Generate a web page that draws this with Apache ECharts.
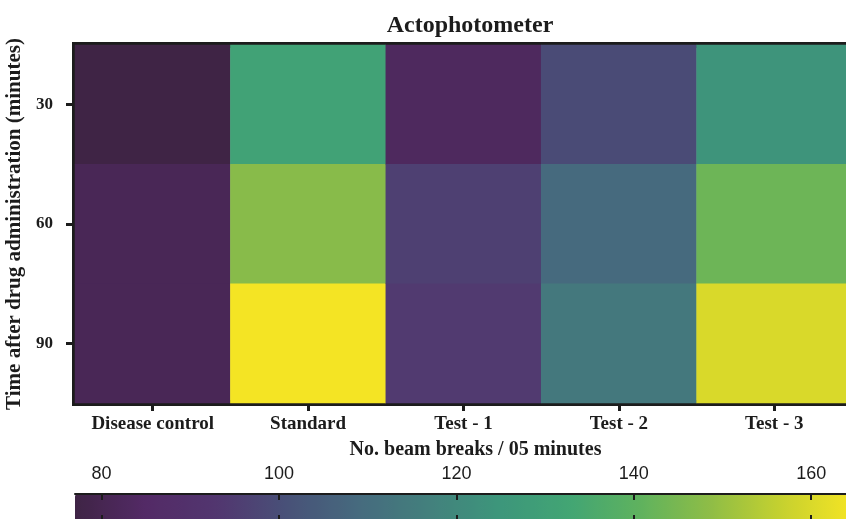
<!DOCTYPE html>
<html><head><meta charset="utf-8">
<script src="https://cdn.jsdelivr.net/npm/echarts@6/dist/echarts.min.js"></script>
<style>html,body{margin:0;padding:0;background:#fff;overflow:hidden}#c{width:846px;height:519px}</style>
</head><body><div id="c"></div>
<script>
const groups = ['Disease control', 'Standard', 'Test - 1', 'Test - 2', 'Test - 3'];
const times = ['30', '60', '90'];
// values per group, in order of times (30, 60, 90)
const diseaseControl = [77, 81, 81];
const standard = [131, 147.5, 164.6];
const test1 = [83, 96, 94];
const test2 = [99, 109, 114];
const test3 = [124, 143, 160];
const colorTicks = [80, 100, 120, 140, 160];
const scaleMin = 77, scaleMax = 164.6;
const palette = ['#3f2445', '#532a66', '#52366f', '#485178', '#466a7e', '#43807d',
                 '#3d967b', '#42a574', '#5fb25e', '#8fbd46', '#c6d12f', '#f4e424'];

const series = [diseaseControl, standard, test1, test2, test3];
const data = [];
series.forEach((vals, xi) => vals.forEach((v, yi) => data.push([xi, yi, v])));

const serif = '"Liberation Serif", "Times New Roman", serif';
const sans = '"Liberation Sans", Arial, sans-serif';
const dark = '#1c1c1c';

const chart = echarts.init(document.getElementById('c'));
chart.setOption({
  animation: false,
  backgroundColor: '#fff',
  title: {
    text: 'Actophotometer', left: 465, top: 9, textAlign: 'center',
    textStyle: { fontFamily: serif, fontWeight: 'bold', fontSize: 24, color: dark }
  },
  grid: [
    { left: 75, width: 777, top: 45, height: 358, show: true, borderColor: dark, borderWidth: 6,
      backgroundColor: 'transparent', outerBoundsMode: 'none', containLabel: false },
    // colorbar bottom edge ticks
    { left: 75, width: 777, top: 494, height: 27, outerBoundsMode: 'none', containLabel: false },
    // colorbar top edge: grid whose bottom line sits on the bar's top edge
    { left: 75, width: 777, top: 440, height: 54, outerBoundsMode: 'none', containLabel: false }
  ],
  xAxis: [
    {
      gridIndex: 0, type: 'category', data: groups, position: 'bottom',
      axisLine: { show: true, lineStyle: { color: dark, width: 3 } },
      axisTick: { show: true, alignWithLabel: true, length: 8, lineStyle: { color: dark, width: 3 } },
      axisLabel: { interval: 0, hideOverlap: false, margin: 12, fontFamily: serif, fontWeight: 'bold', fontSize: 19, color: dark },
      name: 'No. beam breaks / 05 minutes', nameLocation: 'middle', nameGap: 37,
      nameTextStyle: { fontFamily: serif, fontWeight: 'bold', fontSize: 20, color: dark, padding: [0, 0, 0, 24] },
      splitLine: { show: false }
    },
    {
      gridIndex: 1, type: 'value', min: scaleMin, max: scaleMax, position: 'bottom', zlevel: 1,
      axisLine: { show: true, lineStyle: { color: dark, width: 2 } },
      axisTick: { show: true, inside: true, length: 6, customValues: colorTicks, lineStyle: { color: dark, width: 2 } },
      axisLabel: { show: false },
      splitLine: { show: false }
    },
    {
      gridIndex: 2, type: 'value', min: scaleMin, max: scaleMax, position: 'bottom', zlevel: 1,
      axisLine: { show: true, lineStyle: { color: dark, width: 2 } },
      axisTick: { show: true, inside: false, length: 6, customValues: colorTicks, lineStyle: { color: dark, width: 2 } },
      axisLabel: { show: true, inside: true, customValues: colorTicks, margin: 11, fontFamily: sans, fontSize: 18, color: dark },
      splitLine: { show: false }
    }
  ],
  yAxis: [
    {
      gridIndex: 0, type: 'category', data: times, inverse: true,
      axisLine: { show: true, lineStyle: { color: dark, width: 3 } },
      axisTick: { show: true, alignWithLabel: true, length: 9, lineStyle: { color: dark, width: 3 } },
      axisLabel: { margin: 22, fontFamily: serif, fontWeight: 'bold', fontSize: 17, color: dark },
      name: 'Time after drug administration (minutes)', nameLocation: 'middle', nameGap: 50,
      nameTextStyle: { fontFamily: serif, fontWeight: 'bold', fontSize: 21, color: dark },
      splitLine: { show: false }
    },
    { gridIndex: 1, type: 'value', show: false },
    { gridIndex: 2, type: 'value', show: false }
  ],
  visualMap: {
    type: 'continuous', min: scaleMin, max: scaleMax, calculable: false,
    orient: 'horizontal', left: 75, top: 494, itemWidth: 27, itemHeight: 777,
    padding: 0, text: ['', ''], showLabel: false,
    inRange: { color: palette }, seriesIndex: 0, z: 1
  },
  series: [{
    type: 'heatmap', xAxisIndex: 0, yAxisIndex: 0, data: data,
    itemStyle: { borderWidth: 0 }, emphasis: { disabled: true }
  }]
});
</script></body></html>
